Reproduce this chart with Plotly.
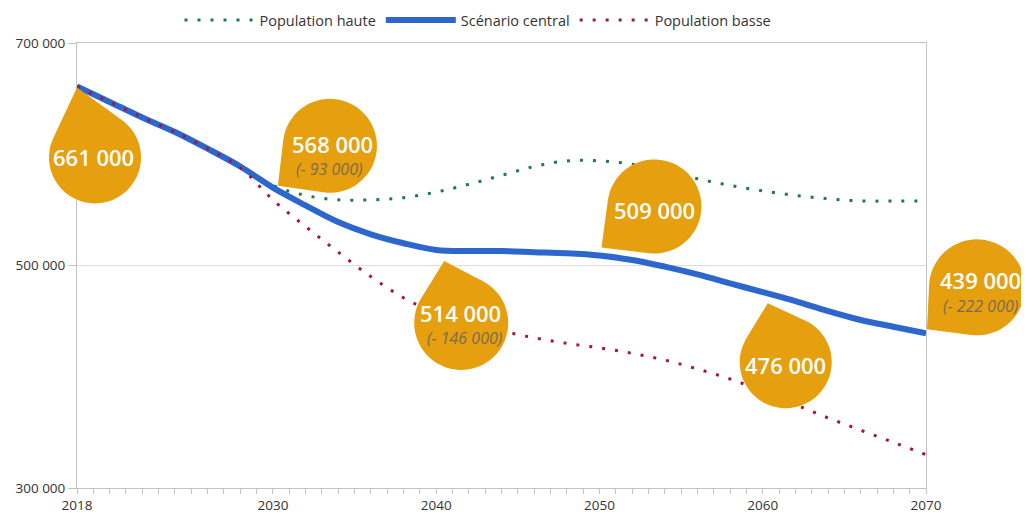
import math
import plotly.graph_objects as go

# ---- data ----
years = list(range(2018, 2071, 2))
central = [661000, 647000, 633000, 620000, 605000, 589000, 570000, 554000, 539000,
           528000, 520000, 514000, 513000, 513000, 512000, 511000, 509000, 505000,
           499000, 492000, 484000, 476000, 468000, 459000, 451000, 445000, 439000]
high = [661000, 647000, 633000, 620000, 605000, 590000, 572000, 563000, 559000,
        559000, 561000, 566000, 573000, 581000, 589000, 594000, 594000, 591000,
        585000, 578000, 572000, 567000, 563000, 560000, 558000, 558000, 558000]
low = [661000, 647000, 633000, 620000, 605000, 588000, 559000, 535000, 512000,
       490000, 471000, 457000, 447000, 441000, 435000, 430000, 426000, 421000,
       415000, 407000, 398000, 387000, 375000, 363000, 352000, 341000, 330000]

bubble_years = [2018, 2030, 2040, 2050, 2060, 2070]
bubble_values = [661000, 568000, 514000, 509000, 476000, 439000]
bubble_labels = ["661 000", "568 000", "514 000", "509 000", "476 000", "439 000"]
bubble_changes = ["", "(- 93 000)", "(- 146 000)", "", "", "(- 222 000)"]

# ---- geometry (figure px; the page puts the figure 8px in from the corner) ----
W, H = 1029, 515
OFF = 8
PL, PR, PT, PB = 77 - OFF, 926 - OFF, 43 - OFF, 488 - OFF   # plot box
X0, X1, Y0, Y1 = 2018, 2070, 300000, 700000
ppx = (PR - PL) / (X1 - X0)
ppy = (PB - PT) / (Y1 - Y0)

ORANGE = "#E69F0E"

# drop shapes: tip offset, centre offset (screen px from the point), radius
tips = [(0, 1), (5, -4), (8, 11), (2, -8), (5, 11), (1, -4)]
centres = [(18, 71), (57, -44), (25, 73), (55, -49), (23, 70), (51, -46)]
radii = [46, 47, 47, 47, 46, 48]
main_pos = [(16, 71), (60, -46), (24, 63), (55, -45), (23, 73), (54, -53)]
sub_pos = [None, (57, -21), (28, 88), None, None, (54, -27)]


def drop_path(tip, centre, r, n=48):
    tx, ty = tip
    cx, cy = centre
    d = math.hypot(tx - cx, ty - cy)
    base = math.atan2(ty - cy, tx - cx)
    half = math.acos(min(r / d, 0.999))
    a0 = base + half
    a1 = base - half + 2 * math.pi
    pts = [(tx, ty)]
    for i in range(n + 1):
        a = a0 + (a1 - a0) * i / n
        pts.append((cx + r * math.cos(a), cy + r * math.sin(a)))
    return "M " + " L ".join(f"{x:.1f},{-y:.1f}" for x, y in pts) + " Z"


fig = go.Figure()
fig.add_trace(go.Scatter(x=years, y=high, name="Population haute", mode="lines",
                         line=dict(color="#1E7B46", width=3, dash="3px,10px", shape="spline")))
fig.add_trace(go.Scatter(x=years, y=central, name="Scénario central", mode="lines",
                         line=dict(color="#2D67CE", width=6, shape="spline")))
fig.add_trace(go.Scatter(x=years, y=low, name="Population basse", mode="lines",
                         line=dict(color="#A3173C", width=3, dash="3px,10px", shape="spline")))
# invisible trace so the full-page overlay subplot exists
fig.add_trace(go.Scatter(x=[X0], y=[Y0], xaxis="x2", yaxis="y2", mode="markers",
                         marker=dict(opacity=0), showlegend=False, hoverinfo="skip"))

shapes = []
annotations = []
for i in range(len(bubble_years)):
    shapes.append(dict(type="path", xref="x2", yref="y2",
                       xsizemode="pixel", ysizemode="pixel",
                       xanchor=bubble_years[i], yanchor=bubble_values[i],
                       path=drop_path(tips[i], centres[i], radii[i]),
                       fillcolor=ORANGE, line=dict(width=0), layer="above"))
    mx, my = main_pos[i]
    annotations.append(dict(x=bubble_years[i], y=bubble_values[i], xref="x", yref="y",
                            text=bubble_labels[i], showarrow=False,
                            xshift=mx, yshift=-my,
                            font=dict(family="Open Sans", size=22, color="white", weight=600)))
    if bubble_changes[i]:
        sx, sy = sub_pos[i]
        annotations.append(dict(x=bubble_years[i], y=bubble_values[i], xref="x", yref="y",
                                text=bubble_changes[i], showarrow=False,
                                xshift=sx, yshift=-sy,
                                font=dict(family="Open Sans", size=16, color="#7C6C4E",
                                          style="italic")))

axis_col = "#C4C4C4"
fig.update_layout(
    template="none",
    width=W, height=H,
    margin=dict(l=0, r=0, t=0, b=0, autoexpand=False),
    paper_bgcolor="white", plot_bgcolor="rgba(0,0,0,0)",
    font=dict(family="Open Sans", size=13.5, color="#333333"),
    separators=", ",
    showlegend=True,
    legend=dict(orientation="h", x=(478 - OFF) / W, xanchor="center",
                y=1 - (20 - OFF) / H, yanchor="middle",
                itemwidth=70, font=dict(size=14.5, color="#333333"), bgcolor="rgba(0,0,0,0)"),
    xaxis=dict(domain=[PL / W, PR / W], range=[X0, X1], anchor="y",
               tickvals=[2018, 2030, 2040, 2050, 2060, 2070],
               ticks="outside", ticklen=5, tickcolor=axis_col,
               minor=dict(dtick=1, tick0=2018, ticks="outside", ticklen=5, tickcolor=axis_col,
                          showgrid=False),
               showline=True, linecolor=axis_col, linewidth=1, mirror=True,
               showgrid=False, zeroline=False, automargin=False,
               tickfont=dict(size=13.5, color="#333333")),
    yaxis=dict(domain=[(H - PB) / H, (H - PT) / H], range=[Y0, Y1], anchor="x",
               tickvals=[300000, 500000, 700000], tickformat=",d",
               ticks="outside", ticklen=8, tickcolor=axis_col,
               showline=True, linecolor=axis_col, linewidth=1, mirror=True,
               showgrid=True, gridcolor="#DCDCDC", zeroline=False, automargin=False,
               tickfont=dict(size=13.5, color="#333333")),
    xaxis2=dict(domain=[0, 1], range=[X0 - PL / ppx, X1 + (W - PR) / ppx], anchor="y2",
                visible=False, fixedrange=True),
    yaxis2=dict(domain=[0, 1], range=[Y0 - (H - PB) / ppy, Y1 + PT / ppy], anchor="x2",
                visible=False, fixedrange=True),
    shapes=shapes,
    annotations=annotations,
    hovermode=False,
)

fig.write_html("out.html")
